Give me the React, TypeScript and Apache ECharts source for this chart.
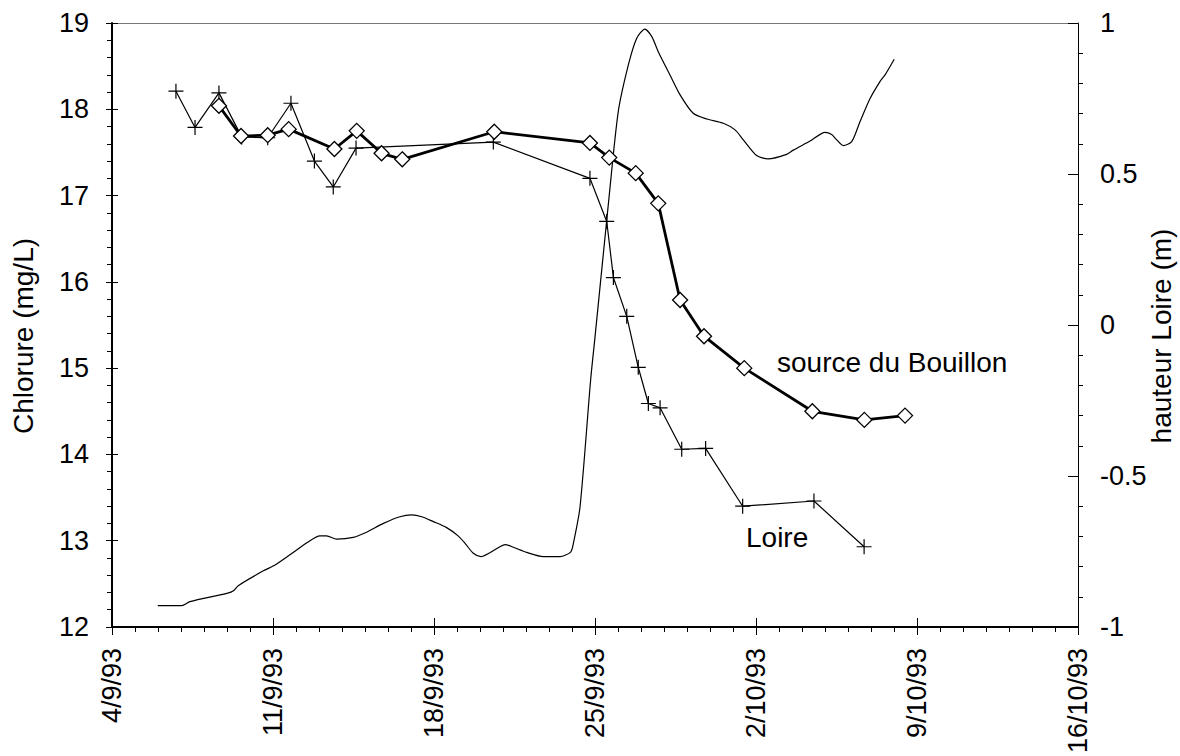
import React, { useEffect, useRef } from "react";
import * as echarts from "echarts";

// x values: days elapsed since 4/9/93
const xTickLabels = ["4/9/93", "11/9/93", "18/9/93", "25/9/93", "2/10/93", "9/10/93", "16/10/93"];

const loireDays = [2.78, 3.61, 4.65, 5.64, 6.77, 7.78, 8.8, 9.62, 10.61, 16.58, 20.78, 21.51, 21.8, 22.38, 22.88, 23.32, 23.83, 24.77, 25.81, 27.42, 30.52, 32.7];
const loireChlorure = [18.21, 17.79, 18.19, 17.68, 17.67, 18.07, 17.4, 17.1, 17.55, 17.62, 17.2, 16.7, 16.05, 15.6, 15.01, 14.59, 14.54, 14.06, 14.07, 13.4, 13.46, 12.93];

const bouillonDays = [4.65, 5.61, 6.77, 7.68, 9.67, 10.64, 11.72, 12.62, 16.62, 20.78, 21.62, 22.77, 23.75, 24.7, 25.74, 27.49, 30.45, 32.71, 34.48];
const bouillonChlorure = [18.04, 17.69, 17.7, 17.77, 17.54, 17.75, 17.49, 17.42, 17.74, 17.61, 17.44, 17.26, 16.91, 15.79, 15.37, 15.0, 14.5, 14.4, 14.45];

const hauteurDays = [1.99, 3.03, 3.39, 5.03, 5.28, 5.49, 6.58, 7.09, 8.03, 8.49, 9.04, 9.33, 9.77, 10.49, 11.07, 11.8, 12.52, 13.03, 13.47, 13.97, 14.55, 15.06, 15.35, 15.71, 16.04, 16.43, 16.87, 17.09, 17.45, 18.03, 18.75, 19.48, 19.94, 20.06, 20.35, 20.81, 21.0, 21.62, 22.01, 22.45, 22.81, 23.17, 23.47, 23.75, 24.26, 24.7, 25.27, 25.86, 26.58, 27.09, 27.45, 28.03, 28.53, 29.33, 29.62, 30.35, 31.0, 31.29, 31.51, 31.8, 32.16, 32.52, 32.96, 33.39, 33.61, 34.01];
const hauteurLoire = [-0.929, -0.929, -0.916, -0.888, -0.88, -0.863, -0.814, -0.795, -0.745, -0.72, -0.698, -0.698, -0.709, -0.703, -0.686, -0.657, -0.635, -0.629, -0.635, -0.651, -0.671, -0.699, -0.723, -0.756, -0.767, -0.754, -0.734, -0.727, -0.736, -0.753, -0.767, -0.767, -0.752, -0.723, -0.602, -0.182, -0.04, 0.43, 0.706, 0.861, 0.949, 0.98, 0.955, 0.905, 0.828, 0.762, 0.701, 0.682, 0.668, 0.646, 0.613, 0.561, 0.55, 0.565, 0.579, 0.609, 0.638, 0.631, 0.613, 0.594, 0.607, 0.673, 0.75, 0.806, 0.828, 0.88];

const FONT = "'Liberation Sans', Arial, sans-serif";
const PLUS = "path://M7,0L7,14M0,7L14,7";

export default function App() {
  const ref = useRef<HTMLDivElement>(null);
  useEffect(() => {
    document.body.style.margin = "0";
    const chart = echarts.init(ref.current!, null, { renderer: "svg" });
    const xBase = { type: "value", min: 0, max: 42, interval: 7, splitLine: { show: false } } as any;
    const option: any = {
      animation: false,
      backgroundColor: "#fff",
      grid: { left: 112, right: 102, top: 23, bottom: 129, containLabel: false, outerBoundsMode: "none" },
      xAxis: [
        {
          ...xBase,
          position: "bottom",
          axisLine: { show: true, onZero: false, lineStyle: { color: "#000", width: 2 } },
          axisTick: { show: true, inside: false, length: 8, lineStyle: { color: "#000", width: 1 } },
          minorTick: { show: true, splitNumber: 7, length: 5, lineStyle: { color: "#000", width: 1 } },
          axisLabel: {
            rotate: 90,
            margin: 21,
            fontSize: 27,
            fontFamily: FONT,
            color: "#000",
            formatter: (v: number) => xTickLabels[Math.round(v / 7)] ?? "",
          },
        },
        {
          ...xBase,
          position: "bottom",
          axisLine: { show: false, onZero: false },
          axisTick: { show: true, inside: true, length: 9, lineStyle: { color: "#000", width: 1 } },
          axisLabel: { show: false },
        },
        {
          ...xBase,
          position: "top",
          axisLine: { show: true, onZero: false, lineStyle: { color: "#777", width: 1 } },
          axisTick: { show: false },
          axisLabel: { show: false },
        },
      ],
      yAxis: [
        {
          type: "value",
          position: "left",
          min: 12,
          max: 19,
          interval: 1,
          splitLine: { show: false },
          axisLine: { show: true, onZero: false, lineStyle: { color: "#000", width: 2 } },
          axisTick: { show: true, inside: false, length: 6, lineStyle: { color: "#000", width: 1 } },
          minorTick: { show: true, splitNumber: 5, length: 5, lineStyle: { color: "#000", width: 1 } },
          axisLabel: { margin: 23, fontSize: 27, fontFamily: FONT, color: "#000" },
        },
        {
          type: "value",
          position: "left",
          offset: 0,
          min: 12,
          max: 19,
          interval: 1,
          splitLine: { show: false },
          axisLine: { show: false, onZero: false },
          axisTick: { show: true, inside: true, length: 6, lineStyle: { color: "#000", width: 1 } },
          axisLabel: { show: false },
        },
        {
          type: "value",
          position: "right",
          offset: 0,
          min: -1,
          max: 1,
          interval: 0.5,
          splitLine: { show: false },
          axisLine: { show: true, onZero: false, lineStyle: { color: "#000", width: 1 } },
          axisTick: { show: true, inside: true, length: 10, lineStyle: { color: "#000", width: 1 } },
          axisLabel: { margin: 22, fontSize: 27, fontFamily: FONT, color: "#000" },
        },
        {
          type: "value",
          position: "right",
          offset: 0,
          min: -1,
          max: 1,
          interval: 0.5,
          splitLine: { show: false },
          axisLine: { show: false, onZero: false },
          axisTick: { show: false, inside: false },
          minorTick: { show: true, splitNumber: 5, length: 5, lineStyle: { color: "#000", width: 1 } },
          axisLabel: { show: false },
        },
      ],
      graphic: [
        {
          type: "text",
          x: 23,
          y: 336,
          rotation: Math.PI / 2,
          style: { text: "Chlorure (mg/L)", fontSize: 28, fontFamily: FONT, fill: "#000", align: "center", verticalAlign: "middle" },
        },
        {
          type: "text",
          x: 1161,
          y: 336,
          rotation: Math.PI / 2,
          style: { text: "hauteur Loire (m)", fontSize: 28, fontFamily: FONT, fill: "#000", align: "center", verticalAlign: "middle" },
        },
        {
          type: "text",
          x: 777,
          y: 362,
          style: { text: "source du Bouillon", fontSize: 28, fontFamily: FONT, fill: "#000", align: "left", verticalAlign: "middle" },
        },
        {
          type: "text",
          x: 746,
          y: 537,
          style: { text: "Loire", fontSize: 28, fontFamily: FONT, fill: "#000", align: "left", verticalAlign: "middle" },
        },
      ],
      series: [
        {
          name: "hauteur Loire",
          type: "line",
          xAxisIndex: 0,
          yAxisIndex: 2,
          data: hauteurDays.map((d, i) => [d, hauteurLoire[i]]),
          showSymbol: false,
          symbol: "none",
          smooth: 0.25,
          lineStyle: { color: "#000", width: 1.2 },
          z: 2,
        },
        {
          name: "Loire",
          type: "line",
          xAxisIndex: 0,
          yAxisIndex: 0,
          data: loireDays.map((d, i) => [d, loireChlorure[i]]),
          symbol: PLUS,
          symbolSize: 15,
          itemStyle: { color: "rgba(0,0,0,0)", borderColor: "#000", borderWidth: 1.2 },
          lineStyle: { color: "#000", width: 1.2 },
          z: 3,
        },
        {
          name: "source du Bouillon",
          type: "line",
          xAxisIndex: 0,
          yAxisIndex: 0,
          data: bouillonDays.map((d, i) => [d, bouillonChlorure[i]]),
          symbol: "diamond",
          symbolSize: 15,
          itemStyle: { color: "#fff", borderColor: "#000", borderWidth: 1.3 },
          lineStyle: { color: "#000", width: 2.8 },
          z: 4,
        },
      ],
    };
    chart.setOption(option);
    return () => chart.dispose();
  }, []);
  return <div ref={ref} style={{ width: 1180, height: 756 }} />;
}
